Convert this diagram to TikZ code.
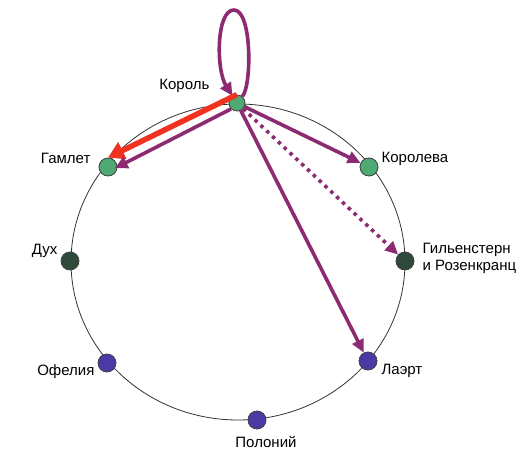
\documentclass[tikz,border=0pt]{standalone}
\usepackage{fontspec}
\setmainfont{Liberation Sans}
\usetikzlibrary{arrows.meta,positioning}

\definecolor{kinggreen}{RGB}{77,170,115}
\definecolor{darkgreen}{RGB}{47,74,58}
\definecolor{violetblue}{RGB}{74,58,165}
\definecolor{plum}{RGB}{140,42,114}
\definecolor{alarm}{RGB}{240,50,30}

\begin{document}
\begin{tikzpicture}[x=1pt, y=-1pt,
    person/.style={circle, draw=black!75, line width=0.8pt, minimum size=18pt, inner sep=0pt},
    lbl/.style={inner sep=1pt, text height=10pt, text depth=3pt, font=\fontsize{15}{17}\selectfont},
    conn/.style={draw=plum, line width=3.6pt, -{Triangle[length=13pt,width=12pt]}},
    alarmconn/.style={draw=alarm, line width=5.5pt, -{Triangle[length=16pt,width=18pt]}}]
    \useasboundingbox (0,0) rectangle (520,465);

    % the ring of the court
    \draw[black!80, line width=0.8pt] (238,262) ellipse [x radius=167, y radius=158];

    \node[person, fill=kinggreen, minimum size=16pt] (K) at (237,103) {};
    \node[person, fill=kinggreen] (H) at (108,167) {};
    \node[person, fill=kinggreen] (Q) at (369,167) {};
    \node[person, fill=darkgreen] (GR) at (405,261) {};
    \node[person, fill=violetblue] (L) at (368,361) {};
    \node[person, fill=violetblue] (P) at (257,420) {};
    \node[person, fill=violetblue] (O) at (107,363) {};
    \node[person, fill=darkgreen] (D) at (70,261) {};

    \node[lbl, left=18pt of K, yshift=17pt] (Kl) {Король};
    \node[lbl, left=7pt of H, yshift=7pt] (Hl) {Гамлет};
    \node[lbl, right=2pt of Q, yshift=8pt] (Ql) {Королева};
    \node[lbl, right=7pt of GR, yshift=3pt, align=left, text height=, text depth=] (GRl) {Гильенстерн\\и Розенкранц};
    \node[lbl, right=3pt of L, yshift=-10pt] (Ll) {Лаэрт};
    \node[lbl, below=7pt of P, xshift=9pt] (Pl) {Полоний};
    \node[lbl, left=2pt of O, yshift=-9pt] (Ol) {Офелия};
    \node[lbl, left=2pt of D, yshift=10pt] (Dl) {Дух};

    \draw[conn] (K) .. controls (252,85) and (252,10) .. (234,10)
        .. controls (216,10) and (216,70) .. (K);
    \draw[alarmconn] (K.north) -- (H.north);
    \draw[conn, shorten >=-3pt] (K.south west) -- (H.east);
    \draw[conn] (K) -- (Q);
    \draw[conn, dash pattern=on 3.5pt off 4.5pt] (K) -- (GR);
    \draw[conn] (K) -- (L);
\end{tikzpicture}
\end{document}
